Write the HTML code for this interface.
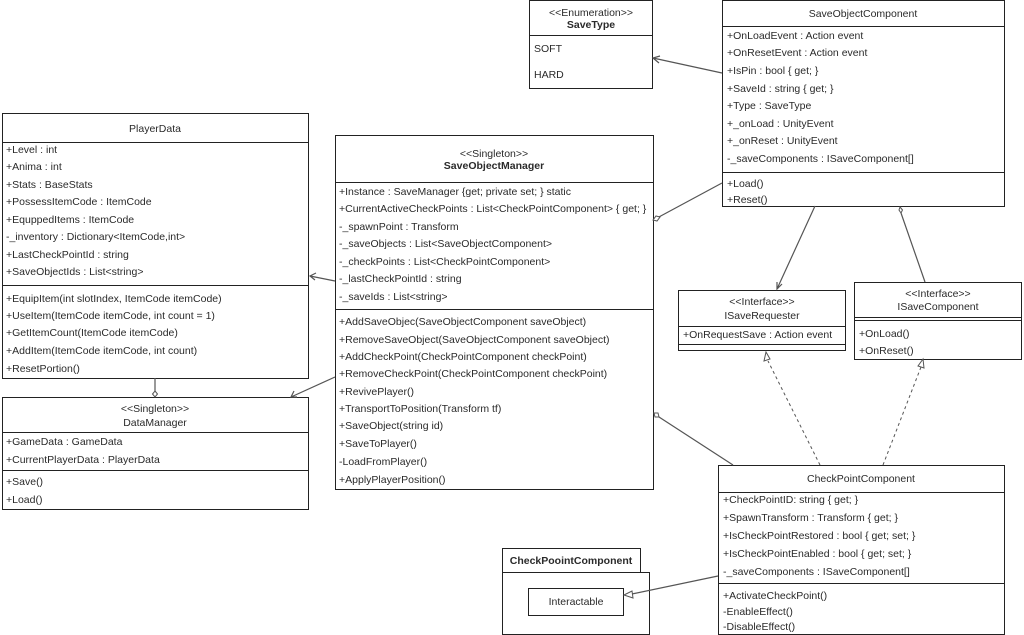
<!DOCTYPE html>
<html><head><meta charset="utf-8"><style>
html,body{margin:0;padding:0;background:#fff;}
svg{display:block;}
text{font-family:"Liberation Sans",sans-serif;font-size:10.5px;fill:#2a2a2a;}
.c{text-anchor:middle;}
.b{font-weight:bold;}
rect,line.s{stroke:#222;stroke-width:1;fill:#fff;}
.cn{stroke:#555;stroke-width:1.2;fill:none;}
.d{stroke:#555;stroke-width:1;fill:none;stroke-dasharray:3,3;}
</style></head><body>
<svg width="1024" height="635" viewBox="0 0 1024 635" xmlns="http://www.w3.org/2000/svg">
<!-- PlayerData -->
<rect x="2.5" y="113.5" width="306" height="265"/>
<line class="s" x1="2" y1="142.5" x2="309" y2="142.5"/>
<line class="s" x1="2" y1="285.5" x2="309" y2="285.5"/>
<text x="155" y="132" class="c">PlayerData</text>
<text x="6" y="153">+Level : int</text>
<text x="6" y="170">+Anima : int</text>
<text x="6" y="188">+Stats : BaseStats</text>
<text x="6" y="205">+PossessItemCode : ItemCode</text>
<text x="6" y="223">+EquppedItems : ItemCode</text>
<text x="6" y="240">-_inventory : Dictionary&lt;ItemCode,int&gt;</text>
<text x="6" y="258">+LastCheckPointId : string</text>
<text x="6" y="275">+SaveObjectIds : List&lt;string&gt;</text>
<text x="6" y="302">+EquipItem(int slotIndex, ItemCode itemCode)</text>
<text x="6" y="319">+UseItem(ItemCode itemCode, int count = 1)</text>
<text x="6" y="336">+GetItemCount(ItemCode itemCode)</text>
<text x="6" y="354">+AddItem(ItemCode itemCode, int count)</text>
<text x="6" y="372">+ResetPortion()</text>
<!-- DataManager -->
<rect x="2.5" y="397.5" width="306" height="112"/>
<line class="s" x1="2" y1="432.5" x2="309" y2="432.5"/>
<line class="s" x1="2" y1="470.5" x2="309" y2="470.5"/>
<text x="155" y="412" class="c">&lt;&lt;Singleton&gt;&gt;</text>
<text x="155" y="426" class="c">DataManager</text>
<text x="6" y="445">+GameData : GameData</text>
<text x="6" y="463">+CurrentPlayerData : PlayerData</text>
<text x="6" y="485">+Save()</text>
<text x="6" y="503">+Load()</text>
<!-- SaveObjectManager -->
<rect x="335.5" y="135.5" width="318" height="354"/>
<line class="s" x1="335" y1="182.5" x2="654" y2="182.5"/>
<line class="s" x1="335" y1="309.5" x2="654" y2="309.5"/>
<text x="494" y="157" class="c">&lt;&lt;Singleton&gt;&gt;</text>
<text x="494" y="169" class="c b">SaveObjectManager</text>
<text x="339" y="195">+Instance : SaveManager {get; private set; } static</text>
<text x="339" y="212">+CurrentActiveCheckPoints : List&lt;CheckPointComponent&gt; { get; }</text>
<text x="339" y="230">-_spawnPoint : Transform</text>
<text x="339" y="247">-_saveObjects : List&lt;SaveObjectComponent&gt;</text>
<text x="339" y="265">-_checkPoints : List&lt;CheckPointComponent&gt;</text>
<text x="339" y="282">-_lastCheckPointId : string</text>
<text x="339" y="300">-_saveIds : List&lt;string&gt;</text>
<text x="339" y="325">+AddSaveObjec(SaveObjectComponent saveObject)</text>
<text x="339" y="343">+RemoveSaveObject(SaveObjectComponent saveObject)</text>
<text x="339" y="360">+AddCheckPoint(CheckPointComponent checkPoint)</text>
<text x="339" y="377">+RemoveCheckPoint(CheckPointComponent checkPoint)</text>
<text x="339" y="395">+RevivePlayer()</text>
<text x="339" y="412">+TransportToPosition(Transform tf)</text>
<text x="339" y="429">+SaveObject(string id)</text>
<text x="339" y="447">+SaveToPlayer()</text>
<text x="339" y="465">-LoadFromPlayer()</text>
<text x="339" y="483">+ApplyPlayerPosition()</text>
<!-- SaveType -->
<rect x="529.5" y="0.5" width="123" height="88"/>
<line class="s" x1="529" y1="35.5" x2="653" y2="35.5"/>
<text x="591" y="16" class="c">&lt;&lt;Enumeration&gt;&gt;</text>
<text x="591" y="28" class="c b">SaveType</text>
<text x="534" y="52">SOFT</text>
<text x="534" y="78">HARD</text>
<!-- SaveObjectComponent -->
<rect x="722.5" y="0.5" width="282" height="206"/>
<line class="s" x1="722" y1="26.5" x2="1005" y2="26.5"/>
<line class="s" x1="722" y1="172.5" x2="1005" y2="172.5"/>
<text x="863" y="17" class="c">SaveObjectComponent</text>
<text x="727" y="39">+OnLoadEvent : Action event</text>
<text x="727" y="56">+OnResetEvent : Action event</text>
<text x="727" y="74">+IsPin : bool { get; }</text>
<text x="727" y="92">+SaveId  : string { get; }</text>
<text x="727" y="109">+Type : SaveType</text>
<text x="727" y="127">+_onLoad : UnityEvent</text>
<text x="727" y="144">+_onReset : UnityEvent</text>
<text x="727" y="162">-_saveComponents : ISaveComponent[]</text>
<text x="727" y="187">+Load()</text>
<text x="727" y="203">+Reset()</text>
<!-- ISaveRequester -->
<rect x="678.5" y="290.5" width="167" height="60"/>
<line class="s" x1="678" y1="326.5" x2="846" y2="326.5"/>
<line class="s" x1="678" y1="344.5" x2="846" y2="344.5"/>
<text x="762" y="305" class="c">&lt;&lt;Interface&gt;&gt;</text>
<text x="762" y="319" class="c">ISaveRequester</text>
<text x="683" y="338">+OnRequestSave : Action event</text>
<!-- ISaveComponent -->
<rect x="854.5" y="282.5" width="167" height="77"/>
<line class="s" x1="854" y1="317.5" x2="1022" y2="317.5"/>
<line class="s" x1="854" y1="320.5" x2="1022" y2="320.5"/>
<text x="938" y="297" class="c">&lt;&lt;Interface&gt;&gt;</text>
<text x="938" y="310" class="c">ISaveComponent</text>
<text x="859" y="337">+OnLoad()</text>
<text x="859" y="354">+OnReset()</text>
<!-- CheckPointComponent -->
<rect x="718.5" y="465.5" width="286" height="169"/>
<line class="s" x1="718" y1="492.5" x2="1005" y2="492.5"/>
<line class="s" x1="718" y1="583.5" x2="1005" y2="583.5"/>
<text x="861" y="482" class="c">CheckPointComponent</text>
<text x="723" y="503">+CheckPointID: string { get; }</text>
<text x="723" y="521">+SpawnTransform : Transform { get; }</text>
<text x="723" y="539">+IsCheckPointRestored : bool { get; set; }</text>
<text x="723" y="557">+IsCheckPointEnabled : bool { get; set; }</text>
<text x="723" y="575">-_saveComponents : ISaveComponent[]</text>
<text x="723" y="599">+ActivateCheckPoint()</text>
<text x="723" y="615">-EnableEffect()</text>
<text x="723" y="630">-DisableEffect()</text>
<!-- Package -->
<rect x="502.5" y="572.5" width="147" height="62"/>
<rect x="502.5" y="548.5" width="138" height="24"/>
<text x="571" y="564" class="c b">CheckPoointComponent</text>
<rect x="528.5" y="588.5" width="95" height="27"/>
<text x="576" y="605" class="c">Interactable</text>
<!-- connectors -->
<path class="cn" d="M722,73 L653,58 M660,56 L653,58 L659,63"/>
<path class="cn" d="M722,183 L657,218"/>
<path d="M653,220 L656,216 L660,217 L657,221 Z" fill="#fff" stroke="#555"/>
<path class="cn" d="M335,281 L310,276 M316,273 L310,276 L315,280"/>
<path class="cn" d="M335,377 L291,397 M294,391 L291,397 L297,397"/>
<path class="cn" d="M155,378 L155,391"/>
<path d="M155,391 L157.5,394 L155,397 L152.5,394 Z" fill="#fff" stroke="#555"/>
<path class="cn" d="M815,206 L777,289 M777,282 L777,289 L782,284"/>
<path class="cn" d="M925,282 L901,213"/>
<path d="M900,207 L902.5,210 L901,213 L899,210 Z" fill="#fff" stroke="#555"/>
<path class="cn" d="M733,465 L659,417"/>
<path d="M654,413 L658,413 L659,417 L655,417 Z" fill="#fff" stroke="#555"/>
<path class="d" d="M820,465 L768,361"/>
<path d="M766,352 L764,361 L770,359 Z" fill="#fff" stroke="#555"/>
<path class="d" d="M883,465 L921,367"/>
<path d="M923,359 L918,366 L924,368 Z" fill="#fff" stroke="#555"/>
<path class="cn" d="M718,576 L632,594"/>
<path d="M624,595 L632,591 L633,598 Z" fill="#fff" stroke="#555"/>
</svg>
</body></html>
